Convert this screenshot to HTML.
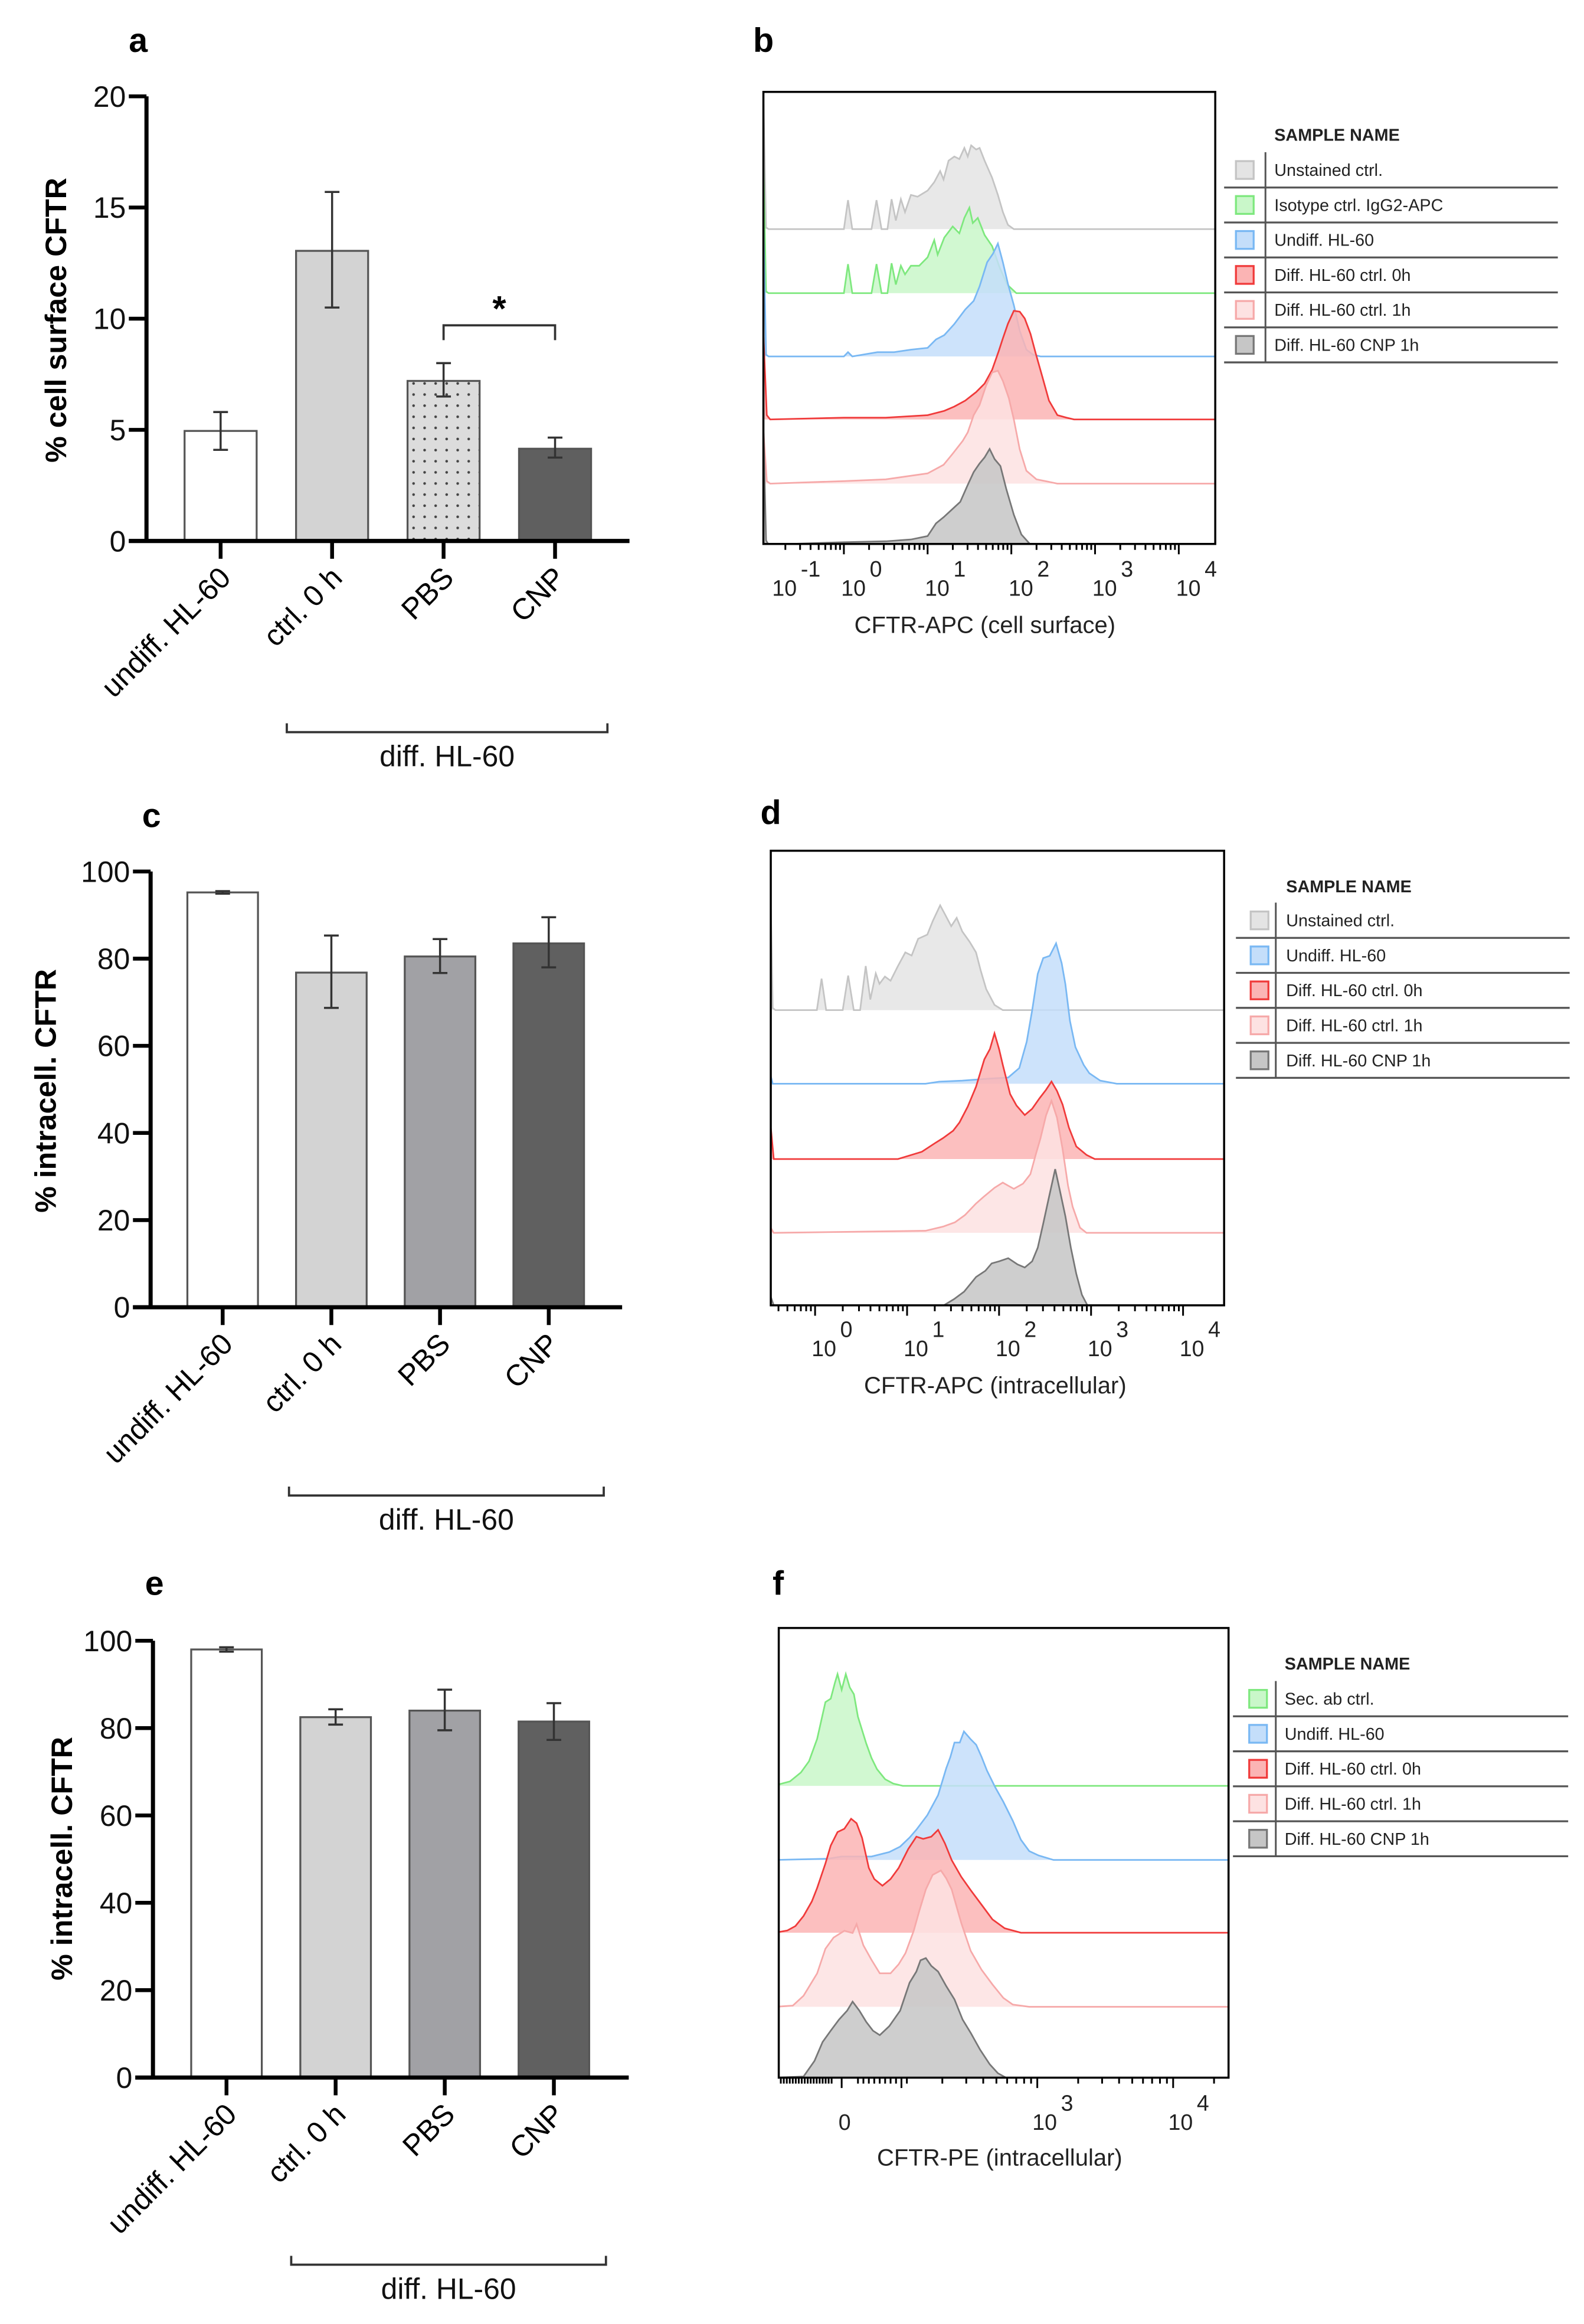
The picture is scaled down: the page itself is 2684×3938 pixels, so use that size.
<!DOCTYPE html>
<html><head><meta charset="utf-8"><title>CFTR figure</title>
<style>
html,body{margin:0;padding:0;background:#fff;}
svg{display:block;}
text{font-family:"Liberation Sans",sans-serif;}
.leg{font-family:"Liberation Sans Narrow","Liberation Sans",sans-serif;}
</style></head>
<body>
<svg id="fig" xmlns="http://www.w3.org/2000/svg" width="2684" height="3938" viewBox="0 0 1077 1568" preserveAspectRatio="none">
<defs>
<pattern id="dots" width="7.5" height="7.5" patternUnits="userSpaceOnUse">
<rect width="7.5" height="7.5" fill="#dcdcdc"/>
<circle cx="3.7" cy="3.7" r="0.9" fill="#444"/>
</pattern>
<clipPath id="clipB"><rect x="514" y="62" width="306" height="305"/></clipPath>
<clipPath id="clipD"><rect x="519" y="574" width="307" height="307"/></clipPath>
<clipPath id="clipF"><rect x="524" y="1098" width="305" height="304"/></clipPath>
</defs>
</svg>
<script>
// ---------- bar chart data ----------
const categories = ["undiff. HL-60", "ctrl. 0 h", "PBS", "CNP"];
const aValues = [4.95, 13.05, 7.2, 4.15];
const aErrLow = [4.1, 10.5, 6.5, 3.75];
const aErrHigh = [5.8, 15.7, 8.0, 4.65];
const aTicks = [0, 5, 10, 15, 20];
const cValues = [95.2, 76.8, 80.5, 83.5];
const cErrLow = [94.9, 68.7, 76.7, 78.0];
const cErrHigh = [95.5, 85.3, 84.5, 89.5];
const eValues = [98.0, 82.5, 84.0, 81.5];
const eErrLow = [97.5, 80.8, 79.5, 77.3];
const eErrHigh = [98.5, 84.3, 88.8, 85.7];
const pctTicks = [0, 20, 40, 60, 80, 100];

// ---------- flow histogram data: [log10 position, relative count] ----------
const bUnstained = [[-0.97,0],[-0.96,1.46],[-0.93,0.02],[-0.9,0],[0.0,0],[0.05,0.34],[0.1,0],[0.33,0],[0.39,0.34],[0.45,0],[0.52,0],[0.57,0.35],[0.62,0.1],[0.68,0.35],[0.73,0.2],[0.8,0.4],[0.88,0.38],[1.0,0.45],[1.08,0.55],[1.15,0.68],[1.19,0.58],[1.25,0.8],[1.32,0.85],[1.38,0.82],[1.44,0.95],[1.48,0.85],[1.52,0.98],[1.58,0.93],[1.62,0.95],[1.68,0.8],[1.77,0.6],[1.84,0.4],[1.9,0.2],[1.96,0.05],[2.03,0]];
const bIsotype = [[-0.97,0],[-0.96,1.46],[-0.93,0.02],[-0.9,0],[0.0,0],[0.05,0.34],[0.1,0],[0.33,0],[0.39,0.34],[0.45,0],[0.52,0],[0.57,0.35],[0.62,0.1],[0.68,0.32],[0.73,0.22],[0.8,0.32],[0.9,0.32],[1.0,0.42],[1.08,0.62],[1.12,0.45],[1.2,0.65],[1.3,0.78],[1.38,0.7],[1.44,0.88],[1.5,1.0],[1.54,0.82],[1.6,0.88],[1.68,0.68],[1.77,0.55],[1.86,0.3],[1.95,0.1],[2.06,0]];
const bUndiff = [[-0.97,0],[-0.96,1.48],[-0.93,0.02],[-0.9,0],[0.0,0],[0.05,0.05],[0.1,0],[0.4,0.05],[0.6,0.05],[0.8,0.08],[1.0,0.1],[1.1,0.2],[1.2,0.25],[1.32,0.38],[1.45,0.55],[1.55,0.65],[1.62,0.82],[1.71,1.1],[1.78,1.2],[1.84,1.32],[1.9,1.1],[1.96,0.85],[2.03,0.6],[2.1,0.3],[2.18,0.08],[2.26,0.02],[2.35,0]];
const bDiff0h = [[-0.97,0],[-0.96,0.96],[-0.92,0.05],[-0.88,0],[0.0,0.02],[0.5,0.02],[1.0,0.05],[1.2,0.1],[1.32,0.15],[1.45,0.22],[1.58,0.32],[1.68,0.42],[1.77,0.58],[1.85,0.8],[1.9,0.95],[1.96,1.12],[2.03,1.27],[2.1,1.26],[2.16,1.18],[2.23,1.0],[2.29,0.78],[2.37,0.5],[2.45,0.22],[2.55,0.05],[2.66,0.02],[2.75,0]];
const bDiff1h = [[-0.97,0],[-0.96,0.6],[-0.92,0.03],[-0.88,0],[0.0,0.03],[0.5,0.05],[1.0,0.12],[1.19,0.22],[1.3,0.35],[1.42,0.5],[1.48,0.6],[1.55,0.8],[1.62,0.92],[1.7,1.15],[1.77,1.3],[1.84,1.32],[1.9,1.2],[1.97,1.0],[2.03,0.75],[2.1,0.4],[2.18,0.15],[2.3,0.05],[2.45,0.02],[2.55,0]];
const bCnp = [[-0.97,0],[-0.96,1.3],[-0.93,0.05],[-0.9,0],[0.0,0.03],[0.5,0.04],[0.8,0.06],[1.0,0.1],[1.1,0.25],[1.19,0.32],[1.3,0.42],[1.39,0.5],[1.48,0.7],[1.55,0.85],[1.62,0.95],[1.68,1.02],[1.74,1.12],[1.8,1.0],[1.87,0.92],[1.94,0.65],[2.03,0.35],[2.12,0.12],[2.23,0]];

const dUnstained = [[-0.5,0],[-0.49,1.38],[-0.46,0.02],[-0.43,0],[0.02,0],[0.07,0.3],[0.12,0],[0.3,0],[0.36,0.33],[0.42,0],[0.49,0],[0.55,0.42],[0.6,0.1],[0.66,0.35],[0.7,0.25],[0.76,0.32],[0.82,0.28],[0.9,0.42],[0.98,0.55],[1.05,0.52],[1.12,0.68],[1.22,0.72],[1.28,0.85],[1.36,1.0],[1.42,0.9],[1.48,0.8],[1.54,0.88],[1.6,0.75],[1.68,0.65],[1.75,0.55],[1.8,0.38],[1.86,0.2],[1.95,0.05],[2.04,0]];
const dUndiff = [[-0.5,0],[-0.49,0.1],[-0.46,0],[1.2,0],[1.35,0.02],[1.6,0.03],[1.9,0.05],[2.1,0.06],[2.22,0.15],[2.3,0.4],[2.36,0.7],[2.42,1.05],[2.48,1.2],[2.55,1.22],[2.62,1.34],[2.68,1.15],[2.72,0.95],[2.77,0.6],[2.83,0.35],[2.92,0.18],[2.98,0.1],[3.1,0.03],[3.28,0]];
const dDiff0h = [[-0.5,0],[-0.49,0.38],[-0.45,0],[0.9,0],[1.16,0.07],[1.3,0.15],[1.39,0.2],[1.5,0.27],[1.57,0.35],[1.66,0.5],[1.75,0.69],[1.84,0.95],[1.9,1.05],[1.95,1.2],[2.0,1.05],[2.04,0.9],[2.12,0.62],[2.19,0.51],[2.28,0.42],[2.36,0.48],[2.44,0.58],[2.51,0.66],[2.57,0.74],[2.63,0.65],[2.69,0.52],[2.76,0.3],[2.84,0.12],[2.95,0.04],[3.04,0]];
const dDiff1h = [[-0.5,0],[-0.49,0.06],[-0.45,0],[1.2,0.02],[1.39,0.06],[1.52,0.1],[1.63,0.17],[1.75,0.28],[1.84,0.35],[1.95,0.43],[2.04,0.48],[2.1,0.45],[2.16,0.42],[2.26,0.47],[2.34,0.56],[2.4,0.75],[2.45,0.9],[2.51,1.12],[2.57,1.26],[2.63,1.1],[2.69,0.8],[2.75,0.45],[2.8,0.25],[2.88,0.05],[2.95,0]];
const dCnp = [[-0.5,0],[-0.49,0.1],[-0.45,0],[1.4,0],[1.51,0.06],[1.62,0.13],[1.75,0.27],[1.85,0.33],[1.92,0.4],[2.0,0.42],[2.1,0.45],[2.2,0.39],[2.28,0.36],[2.36,0.42],[2.42,0.55],[2.48,0.78],[2.54,1.02],[2.61,1.3],[2.66,1.1],[2.72,0.85],[2.78,0.55],[2.84,0.3],[2.9,0.1],[2.96,0]];

const fSecAb = [[-0.49,0],[-0.47,0.01],[-0.38,0.04],[-0.3,0.12],[-0.24,0.22],[-0.18,0.42],[-0.12,0.75],[-0.08,0.78],[-0.05,0.92],[-0.03,1.0],[0.0,0.86],[0.03,1.0],[0.06,0.88],[0.09,0.82],[0.12,0.62],[0.18,0.38],[0.22,0.25],[0.26,0.15],[0.32,0.06],[0.38,0.02],[0.45,0]];
const fUndiff = [[-0.49,0],[-0.1,0.01],[0.0,0.03],[0.22,0.03],[0.35,0.07],[0.43,0.12],[0.5,0.2],[0.55,0.27],[0.63,0.4],[0.71,0.58],[0.77,0.82],[0.8,0.92],[0.83,1.05],[0.87,1.05],[0.9,1.15],[0.95,1.08],[0.99,1.03],[1.03,0.92],[1.07,0.8],[1.13,0.65],[1.19,0.52],[1.26,0.35],[1.32,0.18],[1.38,0.08],[1.45,0.04],[1.56,0]];
const fDiff0h = [[-0.49,0],[-0.4,0.02],[-0.34,0.06],[-0.28,0.15],[-0.22,0.28],[-0.18,0.4],[-0.12,0.62],[-0.08,0.78],[-0.03,0.9],[0.02,0.93],[0.07,1.02],[0.11,0.98],[0.15,0.85],[0.2,0.58],[0.24,0.48],[0.3,0.42],[0.36,0.48],[0.42,0.58],[0.49,0.75],[0.55,0.86],[0.6,0.84],[0.66,0.86],[0.71,0.92],[0.76,0.8],[0.81,0.65],[0.88,0.5],[0.95,0.38],[1.03,0.25],[1.11,0.12],[1.2,0.04],[1.32,0]];
const fDiff1h = [[-0.49,0],[-0.36,0.01],[-0.28,0.1],[-0.18,0.3],[-0.12,0.52],[-0.06,0.62],[0.02,0.68],[0.08,0.66],[0.11,0.74],[0.16,0.55],[0.22,0.42],[0.28,0.3],[0.36,0.3],[0.42,0.38],[0.47,0.48],[0.53,0.68],[0.57,0.85],[0.62,1.05],[0.67,1.18],[0.73,1.22],[0.77,1.15],[0.81,1.05],[0.88,0.75],[0.95,0.5],[1.03,0.33],[1.11,0.2],[1.19,0.08],[1.26,0.02],[1.38,0]];
const fCnp = [[-0.49,0],[-0.28,0.01],[-0.2,0.15],[-0.14,0.32],[-0.08,0.42],[-0.02,0.52],[0.04,0.6],[0.08,0.68],[0.13,0.6],[0.18,0.5],[0.23,0.42],[0.28,0.38],[0.35,0.46],[0.43,0.6],[0.5,0.85],[0.55,0.95],[0.58,1.05],[0.62,1.07],[0.66,1.0],[0.71,0.95],[0.77,0.82],[0.83,0.7],[0.89,0.52],[0.95,0.4],[1.02,0.25],[1.09,0.12],[1.15,0.04],[1.21,0]];

const bTickExps = ["-1","0","1","2","3","4"];
const dTickExps = ["0","1","2","3","4"];
const fTickLabels = ["0","3","4"];

const NS = "http://www.w3.org/2000/svg";
const svg = document.getElementById("fig");
function mk(tag, parent, attrs, txt) {
  const e = document.createElementNS(NS, tag);
  for (const k in attrs) e.setAttribute(k, attrs[k]);
  if (txt !== undefined) e.textContent = txt;
  parent.appendChild(e);
  return e;
}

// ---------- bar charts ----------
function drawBar(cfg, values, lo, hi, fills, ticks) {
  const g = mk("g", svg, {});
  
  
  const yScale = v => cfg.y0 - (v / cfg.ymax) * (cfg.y0 - cfg.yTop);
  const xCenter = i => cfg.c0 + i * cfg.step;
  values.forEach((v, i) => {
    const r = mk("rect", g, {x: xCenter(i) - cfg.bw / 2, y: yScale(v), width: cfg.bw, height: cfg.y0 - yScale(v), fill: fills[i], stroke: "#555", "stroke-width": 1.3});
    
    
    const eb = mk("path", g, {d: `M${xCenter(i)},${yScale(lo[i])}V${yScale(hi[i])}M${xCenter(i)-5},${yScale(lo[i])}h10M${xCenter(i)-5},${yScale(hi[i])}h10`, stroke: "#333", "stroke-width": 1.4, fill: "none"});
    
    
    const tk = mk("line", g, {x1: xCenter(i), x2: xCenter(i), y1: cfg.y0, y2: cfg.y0 + 12, stroke: "#000", "stroke-width": 2.6});
    
    
    const lb = mk("text", g, {x: 0, y: 0, "font-size": 20, "text-anchor": "end", fill: "#000", transform: `translate(${xCenter(i) + 8},${cfg.y0 + 26}) rotate(-45)`}, categories[i]);
    
    
  });
  const ax = mk("path", g, {d: `M${cfg.ax},${cfg.yTop}V${cfg.y0}M${cfg.ax - 12},${cfg.y0}H${cfg.xEnd}`, stroke: "#000", "stroke-width": 2.8, fill: "none"});
  
  
  ticks.forEach(t => {
    const tl = mk("line", g, {x1: cfg.ax - 12, x2: cfg.ax, y1: yScale(t), y2: yScale(t), stroke: "#000", "stroke-width": 2.6});
    
    
    const tt = mk("text", g, {x: cfg.ax - 14, y: yScale(t) + 7, "font-size": 20, "text-anchor": "end", fill: "#111"}, String(t));
    
    
  });
  const yt = mk("text", g, {x: 0, y: 0, "font-size": 20, "font-weight": "bold", "text-anchor": "middle", transform: `translate(${cfg.tx},${cfg.ty}) rotate(-90)`}, cfg.title);
  
  
  const br = mk("path", g, {d: `M${cfg.bx1},${cfg.by - 6}V${cfg.by}H${cfg.bx2}V${cfg.by - 6}`, stroke: "#333", "stroke-width": 1.5, fill: "none"});
  
  
  const bt = mk("text", g, {x: (cfg.bx1 + cfg.bx2) / 2, y: cfg.by + 23, "font-size": 20, "text-anchor": "middle", fill: "#111"}, "diff. HL-60");
  
  
  const pl = mk("text", g, {x: cfg.lx, y: cfg.ly, "font-size": 23, "font-weight": "bold", "text-anchor": "middle"}, cfg.letter);
  
  
  return {g, yScale, xCenter};
}

const A = drawBar({name: "panel-a-chart", y0: 365, yTop: 65, ymax: 20, c0: 150, step: 75.8, bw: 49, ax: 99.6, xEnd: 428, tx: 45, ty: 216, title: "% cell surface CFTR", bx1: 195, bx2: 413, by: 494, lx: 94, ly: 35, letter: "a"},
  aValues, aErrLow, aErrHigh, ["#ffffff", "#d3d3d3", "url(#dots)", "#5f5f5f"], aTicks);
const sigY = A.yScale(Math.max(aErrHigh[2], aErrHigh[3]) + 1.7);
const sig = mk("path", A.g, {d: `M${A.xCenter(2)},${sigY + 10}V${sigY}H${A.xCenter(3)}V${sigY + 10}`, stroke: "#333", "stroke-width": 1.5, fill: "none"});


const star = mk("text", A.g, {x: (A.xCenter(2) + A.xCenter(3)) / 2, y: sigY - 3, "font-size": 24, "font-weight": "bold", "text-anchor": "middle"}, "*");



drawBar({name: "panel-c-chart", y0: 882, yTop: 588, ymax: 100, c0: 151.4, step: 73.9, bw: 48, ax: 102.4, xEnd: 423, tx: 38, ty: 736, title: "% intracell. CFTR", bx1: 196.5, bx2: 410.5, by: 1009, lx: 103, ly: 558, letter: "c"},
  cValues, cErrLow, cErrHigh, ["#ffffff", "#d3d3d3", "#a1a1a5", "#606060"], pctTicks);
drawBar({name: "panel-e-chart", y0: 1401.7, yTop: 1107, ymax: 100, c0: 154, step: 74.2, bw: 48, ax: 104, xEnd: 427.5, tx: 49, ty: 1254, title: "% intracell. CFTR", bx1: 198, bx2: 412, by: 1528, lx: 105, ly: 1076, letter: "e"},
  eValues, eErrLow, eErrHigh, ["#ffffff", "#d3d3d3", "#a1a1a5", "#606060"], pctTicks);

// ---------- flow histograms ----------
const COL = {
  gray: {fill: "#e4e4e4", stroke: "#c4c4c4"},
  green: {fill: "#c9f7c9", stroke: "#7ee87e"},
  blue: {fill: "#c4defa", stroke: "#79b8f3"},
  red: {fill: "#fbb4b4", stroke: "#f03a3a"},
  pink: {fill: "#fde2e2", stroke: "#f6a9a9"},
  dark: {fill: "#c6c6c6", stroke: "#777"}
};
function drawFlow(cfg, series) {
  const g = mk("g", svg, {transform: "translate(3,0) scale(1.004,1)"});
  
  
  const inner = mk("g", g, {"clip-path": `url(#${cfg.clip})`});
  series.forEach((s, k) => {
    const base = cfg.baselines[k];
    const px = v => cfg.x(v);
    const py = h => base - h * cfg.unit;
    let d = `M${cfg.left},${base}`;
    s.data.forEach(p => { d += `L${px(p[0]).toFixed(1)},${py(p[1]).toFixed(1)}`; });
    d += `L${cfg.right},${base}`;
    const c = COL[s.color];
    const area = mk("path", inner, {d: d + "Z", fill: c.fill, "fill-opacity": 0.85, stroke: "none"});
    
    
    const line = mk("path", inner, {d, fill: "none", stroke: c.stroke, "stroke-width": 1.1});
    
    
  });
  const box = mk("rect", g, {x: cfg.left, y: cfg.top, width: cfg.right - cfg.left, height: cfg.bottom - cfg.top, fill: "none", stroke: "#000", "stroke-width": 1.4});
  
  
  let td = "";
  cfg.majors.forEach(v => { const x = cfg.x(v); if (x >= cfg.left - 1 && x <= cfg.right + 1) td += `M${x},${cfg.bottom}v7`; });
  cfg.minors.forEach(v => { const x = cfg.x(v); if (x >= cfg.left && x <= cfg.right) td += `M${x},${cfg.bottom}v4`; });
  const ticks = mk("path", g, {d: td, stroke: "#000", "stroke-width": 1.2});
  
  
  cfg.labels.forEach(l => {
    if (l.base) {
      const t = mk("text", g, {x: l.x, y: cfg.labY, "font-size": 15, "text-anchor": "middle", fill: "#222"}, l.base);
      
      
    }
    if (l.exp) {
      const t2 = mk("text", g, {x: l.x + 11, y: cfg.labY - 13, "font-size": 15, "text-anchor": "start", fill: "#222"}, l.exp);
      
      
    }
  });
  const tt = mk("text", g, {x: cfg.titleX, y: cfg.titleY, "font-size": 16, "text-anchor": "middle", fill: "#222"}, cfg.title);
  
  
  const pl = mk("text", g, {x: cfg.lx, y: cfg.ly, "font-size": 23, "font-weight": "bold", "text-anchor": "middle"}, cfg.letter);
  
  
  const lg = mk("g", g, {class: "leg", transform: "translate(4,0)"});
  
  
  const L = cfg.legend;
  const hd = mk("text", lg, {x: L.tx, y: L.headY + 4, "font-size": 11.5, "font-weight": "bold", fill: "#222", class: "leg"}, "SAMPLE NAME");
  
  
  const n = series.length;
  const dv = mk("line", lg, {x1: L.divX, x2: L.divX, y1: L.row0 - 12, y2: L.row0 + (n - 0.5) * L.dy, stroke: "#555", "stroke-width": 1.2});
  
  
  series.forEach((s, k) => {
    const cy = L.row0 + k * L.dy;
    const c = COL[s.color];
    const sw = mk("rect", lg, {x: L.swX, y: cy - 6, width: 12, height: 12, fill: c.fill, stroke: c.stroke, "stroke-width": 1.3});
    
    
    const t = mk("text", lg, {x: L.tx, y: cy + 4, "font-size": 11.5, fill: "#222", class: "leg"}, s.label);
    
    
    const sp = mk("line", lg, {x1: L.x1, x2: L.x2, y1: cy + L.dy / 2, y2: cy + L.dy / 2, stroke: "#555", "stroke-width": 1.3});
    
    
  });
}
function minorsFor(decades) {
  const m = [];
  decades.forEach(d => { for (let k = 2; k <= 9; k++) m.push(d + Math.log10(k)); });
  return m;
}

const xb = L => 568.5 + L * 56.7;
drawFlow({name: "panel-b-histograms", clip: "clipB", x: xb, left: 514, right: 820, top: 62, bottom: 367, unit: 57.7,
  baselines: [154.6, 197.8, 240.5, 283, 326.3, 367.5],
  majors: [-1, 0, 1, 2, 3, 4], minors: minorsFor([-1, 0, 1, 2, 3]),
  labels: bTickExps.map(e => ({x: xb(Number(e)) + 6.5 + (e === "-1" ? 10 : 0), base: "10", exp: e})),
  labY: 402, titleX: 664, titleY: 427, title: "CFTR-APC (cell surface)", lx: 514, ly: 35, letter: "b",
  legend: {tx: 856, headY: 91, row0: 114.7, dy: 23.6, divX: 850, swX: 830, x1: 822, x2: 1048}},
  [{key: "unstained", color: "gray", label: "Unstained ctrl.", data: bUnstained},
   {key: "isotype", color: "green", label: "Isotype ctrl. IgG2-APC", data: bIsotype},
   {key: "undiff", color: "blue", label: "Undiff. HL-60", data: bUndiff},
   {key: "diff-0h", color: "red", label: "Diff. HL-60 ctrl. 0h", data: bDiff0h},
   {key: "diff-1h", color: "pink", label: "Diff. HL-60 ctrl. 1h", data: bDiff1h},
   {key: "cnp-1h", color: "dark", label: "Diff. HL-60 CNP 1h", data: bCnp}]);

const xd = L => 549 + L * 62.3;
drawFlow({name: "panel-d-histograms", clip: "clipD", x: xd, left: 519, right: 826, top: 574, bottom: 880.7, unit: 70.7,
  baselines: [681.5, 731.2, 782, 831.8, 880.7],
  majors: [0, 1, 2, 3, 4], minors: minorsFor([-1, 0, 1, 2, 3]),
  labels: dTickExps.map(e => ({x: xd(Number(e)) + 6, base: "10", exp: e})),
  labY: 915, titleX: 671, titleY: 940, title: "CFTR-APC (intracellular)", lx: 519, ly: 556, letter: "d",
  legend: {tx: 864, headY: 598, row0: 621, dy: 23.6, divX: 857, swX: 840, x1: 830, x2: 1056}},
  [{key: "unstained", color: "gray", label: "Unstained ctrl.", data: dUnstained},
   {key: "undiff", color: "blue", label: "Undiff. HL-60", data: dUndiff},
   {key: "diff-0h", color: "red", label: "Diff. HL-60 ctrl. 0h", data: dDiff0h},
   {key: "diff-1h", color: "pink", label: "Diff. HL-60 ctrl. 1h", data: dDiff1h},
   {key: "cnp-1h", color: "dark", label: "Diff. HL-60 CNP 1h", data: dCnp}]);

const xf = v => 567 + v * 92;
const fMinors = [];
for (let k = 1; k <= 18; k++) fMinors.push(-0.47 + k * 0.022);
[0.12, 0.16, 0.2, 0.24, 0.28, 0.32, 0.36, 0.4, 0.44, 0.48].forEach(v => fMinors.push(v));
[0.44].forEach(d => { for (let k = 2; k <= 9; k++) fMinors.push(d + Math.log10(k)); });
[1.44].forEach(d => { for (let k = 2; k <= 9; k++) fMinors.push(d + Math.log10(k)); });
[2.44].forEach(d => { fMinors.push(d + Math.log10(2)); });
drawFlow({name: "panel-f-histograms", clip: "clipF", x: xf, left: 524.4, right: 829, top: 1098.4, bottom: 1401.8, unit: 75.4,
  baselines: [1204.9, 1254.9, 1304, 1354, 1401.8],
  majors: [-0.49, 0, 0.44, 1.44, 2.44], minors: fMinors,
  labels: [{x: xf(0) + 2, base: fTickLabels[0], exp: ""}, {x: xf(1.44) + 5, base: "10", exp: fTickLabels[1]}, {x: xf(2.44) + 5, base: "10", exp: fTickLabels[2]}],
  labY: 1437, titleX: 674, titleY: 1461, title: "CFTR-PE (intracellular)", lx: 524, ly: 1076, letter: "f",
  legend: {tx: 863, headY: 1122.5, row0: 1146.2, dy: 23.6, divX: 857, swX: 839, x1: 828, x2: 1055}},
  [{key: "sec-ab", color: "green", label: "Sec. ab ctrl.", data: fSecAb},
   {key: "undiff", color: "blue", label: "Undiff. HL-60", data: fUndiff},
   {key: "diff-0h", color: "red", label: "Diff. HL-60 ctrl. 0h", data: fDiff0h},
   {key: "diff-1h", color: "pink", label: "Diff. HL-60 ctrl. 1h", data: fDiff1h},
   {key: "cnp-1h", color: "dark", label: "Diff. HL-60 CNP 1h", data: fCnp}]);
</script>
</body></html>
